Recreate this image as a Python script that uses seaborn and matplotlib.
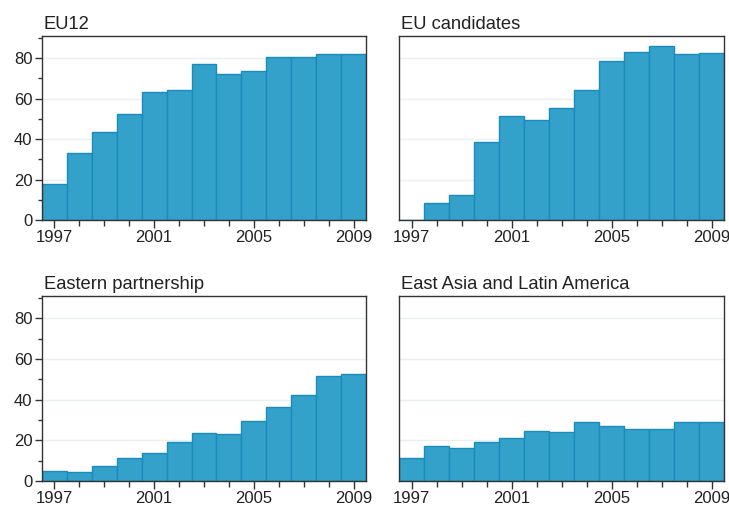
import matplotlib
matplotlib.use("Agg")
import matplotlib.pyplot as plt
from matplotlib.ticker import FixedLocator, MultipleLocator
import seaborn as sns
import pandas as pd

years = list(range(1997, 2010))
eu12 = [18.0, 33.3, 43.7, 52.5, 63.4, 64.1, 77.0, 72.0, 73.7, 80.7, 80.7, 82.0, 82.0]
eu_candidates = [0.0, 8.2, 12.4, 38.4, 51.4, 49.3, 55.4, 64.1, 78.4, 83.3, 86.3, 82.3, 82.8]
eastern_partnership = [4.9, 4.3, 7.2, 11.3, 13.6, 19.0, 23.5, 23.0, 29.4, 36.5, 42.2, 51.6, 52.5]
east_asia_latam = [11.3, 17.2, 16.3, 19.4, 21.0, 24.8, 24.1, 29.1, 27.1, 25.8, 25.8, 29.1, 29.1]

panels = [
    ("EU12", eu12),
    ("EU candidates", eu_candidates),
    ("Eastern partnership", eastern_partnership),
    ("East Asia and Latin America", east_asia_latam),
]
major_years = [1997, 2001, 2005, 2009]

sns.set_theme(style="white")
plt.rcParams["font.family"] = ["Liberation Sans", "DejaVu Sans"]

fig = plt.figure(figsize=(7.29, 5.08), dpi=100)
W, H = 729, 508
boxes = [
    (42, 36, 366, 220),
    (399, 36, 724, 220),
    (42, 296, 366, 481),
    (399, 296, 724, 481),
]

bar_color = "#33a1c9"
edge_color = "#1a8cbb"
text_color = "#222222"

for i, ((title, vals), (x0, y0, x1, y1)) in enumerate(zip(panels, boxes)):
    ax = fig.add_axes([x0 / W, 1 - y1 / H, (x1 - x0) / W, (y1 - y0) / H])
    df = pd.DataFrame({"year": years, "value": vals})
    sns.barplot(data=df, x="year", y="value", native_scale=True, width=1.0,
                color=bar_color, saturation=1, edgecolor=edge_color,
                linewidth=1.0, ax=ax, zorder=2)
    ax.set_xlim(1996.5, 2009.5)
    ax.set_ylim(0, 91)
    ax.set_xlabel("")
    ax.set_ylabel("")
    ax.set_title(title, loc="left", fontsize=13.2, color=text_color, pad=5, x=0.005)

    ax.xaxis.set_major_locator(FixedLocator(major_years))
    ax.xaxis.set_minor_locator(FixedLocator([y for y in years if y not in major_years]))
    ax.set_xticklabels([str(y) for y in major_years])
    ax.tick_params(axis="x", which="major", bottom=True, length=6, width=1,
                   color="#333333", labelsize=12, labelcolor=text_color, pad=1)
    ax.tick_params(axis="x", which="minor", bottom=True, length=4, width=1,
                   color="#333333")

    ax.yaxis.set_major_locator(MultipleLocator(20))
    ax.yaxis.set_minor_locator(MultipleLocator(10))
    ax.grid(axis="y", which="major", color="#e8f0f0", linewidth=1, zorder=0)
    ax.set_axisbelow(True)
    if i % 2 == 0:
        ax.tick_params(axis="y", which="major", left=True, length=5, width=1,
                       color="#333333", labelsize=12, labelcolor=text_color, pad=2)
        ax.tick_params(axis="y", which="minor", left=True, length=3, width=1,
                       color="#333333")
    else:
        ax.tick_params(axis="y", which="both", left=False, labelleft=False)

    for sp in ax.spines.values():
        sp.set_visible(True)
        sp.set_color("#333333")
        sp.set_linewidth(1.0)

fig.savefig("out.png", dpi=100, facecolor="white")
